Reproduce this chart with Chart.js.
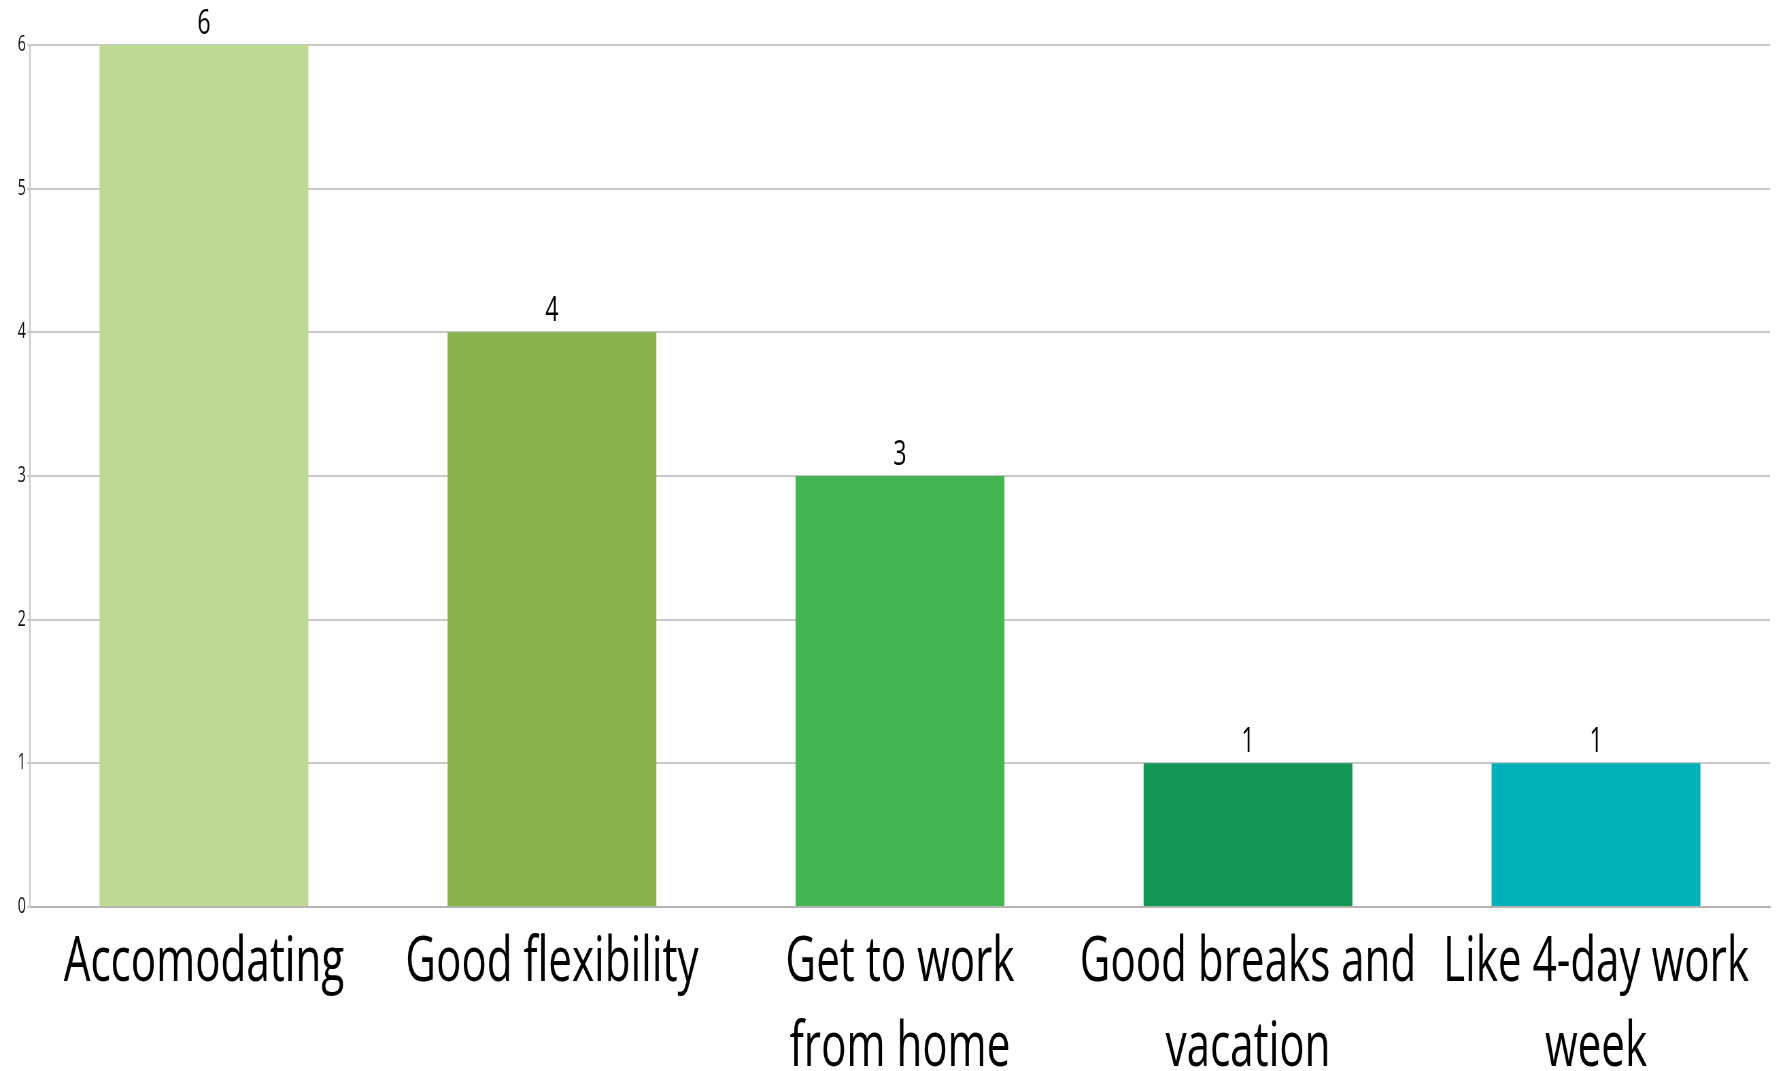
<!DOCTYPE html>
<html>
<head>
<meta charset="utf-8">
<script src="https://cdn.jsdelivr.net/npm/chart.js@4"></script>
<style>
  html, body { margin: 0; padding: 0; background: #fff; overflow: hidden; }
  /* the original looks horizontally squeezed, so draw wide and squeeze */
  #wrap { position: absolute; left: 0; top: 0; width: 2618px; height: 1071px;
          transform: scaleX(0.68); transform-origin: 0 0; }
</style>
</head>
<body>
<div id="wrap"><canvas id="chart"></canvas></div>
<script>
const categories = [
  'Accomodating',
  'Good flexibility',
  ['Get to work', 'from home'],
  ['Good breaks and', 'vacation'],
  ['Like 4-day work', 'week']
];
const counts = [6, 4, 3, 1, 1];
const barColors = ['#bdd993', '#8ab24d', '#43b552', '#139655', '#00b2b8'];
const yTicks = [0, 1, 2, 3, 4, 5, 6];

const FONT = '"Segoe UI", "Open Sans", sans-serif';

// value above each bar
const valueLabels = {
  id: 'valueLabels',
  afterDatasetsDraw(chart) {
    const ctx = chart.ctx;
    const meta = chart.getDatasetMeta(0);
    ctx.save();
    ctx.font = '34px ' + FONT;
    ctx.fillStyle = '#000';
    ctx.textAlign = 'center';
    ctx.textBaseline = 'bottom';
    meta.data.forEach((bar, i) => {
      ctx.fillText(String(counts[i]), bar.x, bar.y - 4);
    });
    ctx.restore();
  }
};

new Chart(document.getElementById('chart'), {
  type: 'bar',
  data: {
    labels: categories,
    datasets: [{
      data: counts,
      backgroundColor: barColors,
      barPercentage: 0.6,
      categoryPercentage: 1
    }]
  },
  options: {
    responsive: true,
    maintainAspectRatio: false,
    animation: false,
    layout: { padding: { top: 45, right: 15, left: 0, bottom: 0 } },
    plugins: { legend: { display: false }, tooltip: { enabled: false } },
    scales: {
      x: {
        grid: { display: false },
        border: { color: '#b4b4b4', width: 2 },
        ticks: {
          color: '#000',
          font: { family: FONT, size: 62, lineHeight: 1.37 },
          padding: 6,
          maxRotation: 0,
          autoSkip: false
        },
        afterFit(scale) { scale.height = 164; }
      },
      y: {
        min: 0,
        max: 6,
        afterBuildTicks(scale) { scale.ticks = yTicks.map(v => ({ value: v })); },
        grid: { color: '#c8c8c8', lineWidth: 2, tickLength: 4 },
        border: { color: '#c8c8c8', width: 2 },
        ticks: {
          color: '#111',
          font: { family: FONT, size: 21 },
          padding: 2
        },
        afterFit(scale) { scale.width = 44; }
      }
    }
  },
  plugins: [valueLabels]
});
</script>
</body>
</html>
